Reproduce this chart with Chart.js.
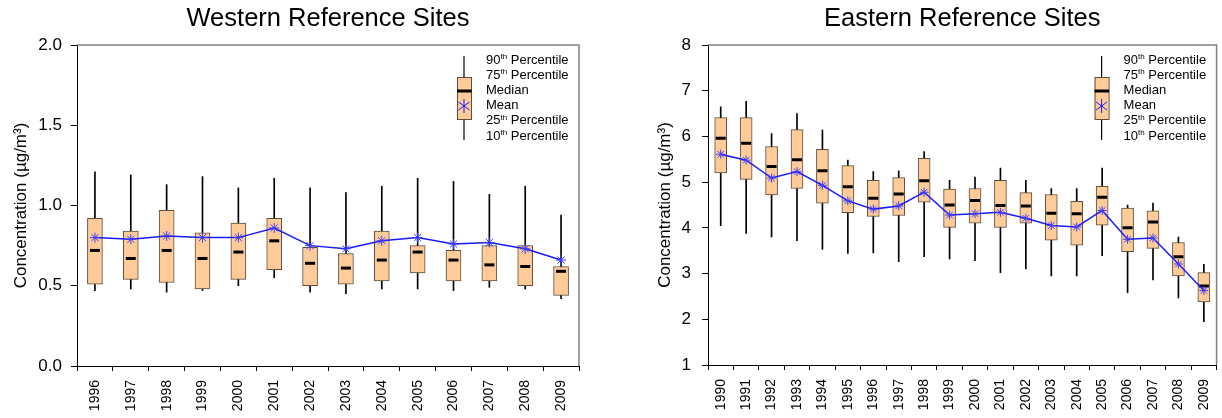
<!DOCTYPE html>
<html>
<head>
<meta charset="utf-8">
<script src="https://cdn.jsdelivr.net/npm/chart.js@4.4.1/dist/chart.umd.min.js"></script>
<style>
  html, body { margin: 0; padding: 0; background: #fff; overflow: hidden; width: 1222px; height: 418px; }
  .panel { position: absolute; top: 0; }
  #westWrap { left: 0; }
  #eastWrap { left: 620px; }
</style>
</head>
<body>
<div class="panel" id="westWrap"><canvas id="westChart" width="600" height="418"></canvas></div>
<div class="panel" id="eastWrap"><canvas id="eastChart" width="610" height="418"></canvas></div>
<script>
// ── Western reference sites (µg/m³) ──
const westYears = ['1996', '1997', '1998', '1999', '2000', '2001', '2002', '2003', '2004', '2005', '2006', '2007', '2008', '2009'];
const westP90 = [1.21, 1.19, 1.13, 1.18, 1.11, 1.17, 1.11, 1.08, 1.12, 1.17, 1.15, 1.07, 1.12, 0.94];
const westP75 = [0.92, 0.84, 0.97, 0.83, 0.89, 0.92, 0.74, 0.70, 0.84, 0.75, 0.72, 0.75, 0.75, 0.62];
const westMedian = [0.72, 0.67, 0.72, 0.67, 0.71, 0.78, 0.64, 0.61, 0.66, 0.71, 0.66, 0.63, 0.62, 0.59];
const westMean = [0.80, 0.79, 0.81, 0.80, 0.80, 0.86, 0.75, 0.73, 0.78, 0.80, 0.76, 0.77, 0.73, 0.66];
const westP25 = [0.51, 0.54, 0.52, 0.48, 0.54, 0.60, 0.50, 0.51, 0.53, 0.58, 0.53, 0.53, 0.50, 0.44];
const westP10 = [0.47, 0.48, 0.46, 0.47, 0.50, 0.55, 0.46, 0.45, 0.48, 0.48, 0.47, 0.49, 0.48, 0.42];
const westTicks = [0, 0.5, 1.0, 1.5, 2.0];

// ── Eastern reference sites (µg/m³) ──
const eastYears = ['1990', '1991', '1992', '1993', '1994', '1995', '1996', '1997', '1998', '1999',
  '2000', '2001', '2002', '2003', '2004', '2005', '2006', '2007', '2008', '2009'];
const eastP90 = [6.65, 6.77, 6.06, 6.50, 6.14, 5.48, 5.23, 5.25, 5.67, 5.04, 5.11, 5.31, 5.04, 4.86, 4.86, 5.31, 4.50, 4.54, 3.80, 3.20];
const eastP75 = [6.41, 6.41, 5.78, 6.15, 5.72, 5.36, 5.04, 5.10, 5.52, 4.85, 4.86, 5.04, 4.77, 4.73, 4.58, 4.91, 4.43, 4.37, 3.68, 3.02];
const eastMedian = [5.96, 5.85, 5.34, 5.49, 5.25, 4.90, 4.65, 4.74, 5.03, 4.50, 4.60, 4.49, 4.48, 4.32, 4.31, 4.67, 4.00, 4.13, 3.37, 2.73];
const eastMean = [5.61, 5.48, 5.09, 5.23, 4.93, 4.59, 4.41, 4.48, 4.78, 4.28, 4.31, 4.34, 4.21, 4.05, 4.02, 4.38, 3.75, 3.78, 3.21, 2.63];
const eastP25 = [5.20, 5.06, 4.72, 4.86, 4.54, 4.33, 4.25, 4.27, 4.56, 4.01, 4.10, 4.01, 4.10, 3.73, 3.62, 4.06, 3.48, 3.55, 2.95, 2.38];
const eastP10 = [4.05, 3.88, 3.80, 3.72, 3.53, 3.44, 3.45, 3.26, 3.37, 3.32, 3.28, 3.02, 3.10, 2.95, 2.95, 3.39, 2.58, 2.86, 2.47, 1.95];
const eastTicks = [1, 2, 3, 4, 5, 6, 7, 8];

const FONT = '"Liberation Sans", Arial, Helvetica, sans-serif';
const BOX_FILL = '#FFCC99';
const BOX_EDGE = '#5e4c3c';
const MEAN_BLUE = '#1a1aff';
const LEGEND_ROWS = [
  ['90', 'th', ' Percentile'],
  ['75', 'th', ' Percentile'],
  ['Median', '', ''],
  ['Mean', '', ''],
  ['25', 'th', ' Percentile'],
  ['10', 'th', ' Percentile'],
];

// gray frame on top / right of the plot area
const framePlugin = {
  id: 'frame',
  afterDatasetsDraw(chart) {
    const { ctx, chartArea: a } = chart;
    ctx.save();
    ctx.strokeStyle = '#808080';
    ctx.lineWidth = 1.5;
    ctx.beginPath();
    ctx.moveTo(a.left, a.top);
    ctx.lineTo(a.right, a.top);
    ctx.lineTo(a.right, a.bottom);
    ctx.stroke();
    ctx.restore();
  }
};

// box-plot key in the upper right
const boxLegendPlugin = {
  id: 'boxLegend',
  afterDatasetsDraw(chart) {
    const { ctx, chartArea: a } = chart;
    const cx = a.right - 115;
    const top = a.top;
    ctx.save();
    // whisker
    ctx.strokeStyle = '#000';
    ctx.lineWidth = 1.2;
    ctx.beginPath();
    ctx.moveTo(cx, top + 11);
    ctx.lineTo(cx, top + 95);
    ctx.stroke();
    // box
    ctx.fillStyle = BOX_FILL;
    ctx.fillRect(cx - 7, top + 32, 14, 42);
    ctx.strokeStyle = BOX_EDGE;
    ctx.lineWidth = 1;
    ctx.strokeRect(cx - 7 + 0.5, top + 32 + 0.5, 14, 42);
    // median
    ctx.fillStyle = '#000';
    ctx.fillRect(cx - 7, top + 44.5, 14.5, 3);
    // mean asterisk
    ctx.strokeStyle = MEAN_BLUE;
    ctx.lineWidth = 1;
    ctx.beginPath();
    ctx.moveTo(cx, top + 54); ctx.lineTo(cx, top + 68);
    ctx.moveTo(cx - 5.5, top + 57); ctx.lineTo(cx + 5.5, top + 65);
    ctx.moveTo(cx - 5.5, top + 65); ctx.lineTo(cx + 5.5, top + 57);
    ctx.stroke();
    // labels
    ctx.fillStyle = '#000';
    ctx.textBaseline = 'middle';
    LEGEND_ROWS.forEach((r, i) => {
      const y = top + 15 + i * 15.2;
      let x = a.right - 93;
      ctx.font = '13px ' + FONT;
      ctx.fillText(r[0], x, y);
      x += ctx.measureText(r[0]).width;
      if (r[1]) {
        ctx.font = '8px ' + FONT;
        ctx.fillText(r[1], x, y - 3);
        x += ctx.measureText(r[1]).width;
        ctx.font = '13px ' + FONT;
        ctx.fillText(r[2], x, y);
      }
    });
    ctx.restore();
  }
};

function makeBoxChart(id, opts) {
  const ctx = document.getElementById(id).getContext('2d');
  const n = opts.years.length;
  const whiskers = [], boxes = [];
  for (let i = 0; i < n; i++) {
    whiskers.push([opts.p10[i], opts.p90[i]]);
    boxes.push([opts.p25[i], opts.p75[i]]);
  }

  return new Chart(ctx, {
    type: 'bar',
    data: {
      labels: opts.years,
      datasets: [
        {
          label: 'Mean',
          type: 'line',
          data: opts.mean,
          borderColor: MEAN_BLUE,
          borderWidth: 1.5,
          pointStyle: 'star',
          pointRadius: opts.starSize,
          pointBorderColor: '#3d3dff',
          pointBorderWidth: 1,
          pointBackgroundColor: 'transparent',
          fill: false,
          tension: 0,
          order: 1
        },
        {
          label: 'Median',
          type: 'line',
          data: opts.median,
          showLine: false,
          pointStyle: 'line',
          pointRadius: 5,
          pointBorderWidth: 3,
          pointBorderColor: '#000',
          order: 2
        },
        {
          label: '25th-75th',
          data: boxes,
          backgroundColor: BOX_FILL,
          borderColor: BOX_EDGE,
          borderWidth: 1,
          borderSkipped: false,
          barThickness: opts.boxWidth,
          grouped: false,
          order: 3
        },
        {
          label: '10th-90th',
          data: whiskers,
          backgroundColor: '#000',
          barThickness: 1,
          grouped: false,
          order: 4
        }
      ]
    },
    options: {
      responsive: false,
      animation: false,
      layout: { padding: { left: 0, right: opts.padRight, top: 0, bottom: 0 } },
      plugins: {
        legend: { display: false },
        tooltip: { enabled: false },
        title: {
          display: true,
          text: opts.title,
          color: '#000',
          fullSize: false,
          font: { family: FONT, size: 25.5, weight: 'normal', lineHeight: 1.2 },
          padding: { top: 4, bottom: 10.4 }
        }
      },
      scales: {
        x: {
          offset: true,
          grid: { offset: true, drawOnChartArea: false, drawTicks: true, tickLength: 5, color: '#000' },
          border: { color: '#000', width: 1 },
          ticks: {
            autoSkip: false, minRotation: 90, maxRotation: 90, padding: 9,
            color: '#000', font: { family: FONT, size: 14 }
          },
          afterFit(scale) { scale.height = opts.xHeight; }
        },
        y: {
          min: opts.ticks[0],
          max: opts.ticks[opts.ticks.length - 1],
          afterBuildTicks(scale) { scale.ticks = opts.ticks.map(v => ({ value: v })); },
          grid: { drawOnChartArea: false, drawTicks: true, tickLength: 6, color: '#000' },
          border: { color: '#000', width: 1 },
          ticks: {
            padding: opts.tickPad,
            color: '#000',
            font: { family: FONT, size: 17 },
            callback: v => opts.fmt(v)
          },
          title: {
            display: true,
            text: 'Concentration (µg/m³)',
            color: '#000',
            font: { family: FONT, size: 17 },
            padding: { top: opts.titlePad, bottom: 0 }
          },
          afterFit(scale) { scale.width = opts.yWidth; }
        }
      }
    },
    plugins: [framePlugin, boxLegendPlugin]
  });
}

makeBoxChart('westChart', {
  title: 'Western Reference Sites',
  years: westYears, p10: westP10, p25: westP25, median: westMedian,
  mean: westMean, p75: westP75, p90: westP90, ticks: westTicks,
  fmt: v => v.toFixed(1),
  boxWidth: 15, starSize: 5,
  yWidth: 77, xHeight: 52, padRight: 21, tickPad: 9, titlePad: 11
});

makeBoxChart('eastChart', {
  title: 'Eastern Reference Sites',
  years: eastYears, p10: eastP10, p25: eastP25, median: eastMedian,
  mean: eastMean, p75: eastP75, p90: eastP90, ticks: eastTicks,
  fmt: v => String(v),
  boxWidth: 12, starSize: 4.5,
  yWidth: 88, xHeight: 53, padRight: 6, tickPad: 11, titlePad: 35
});
</script>
</body>
</html>
